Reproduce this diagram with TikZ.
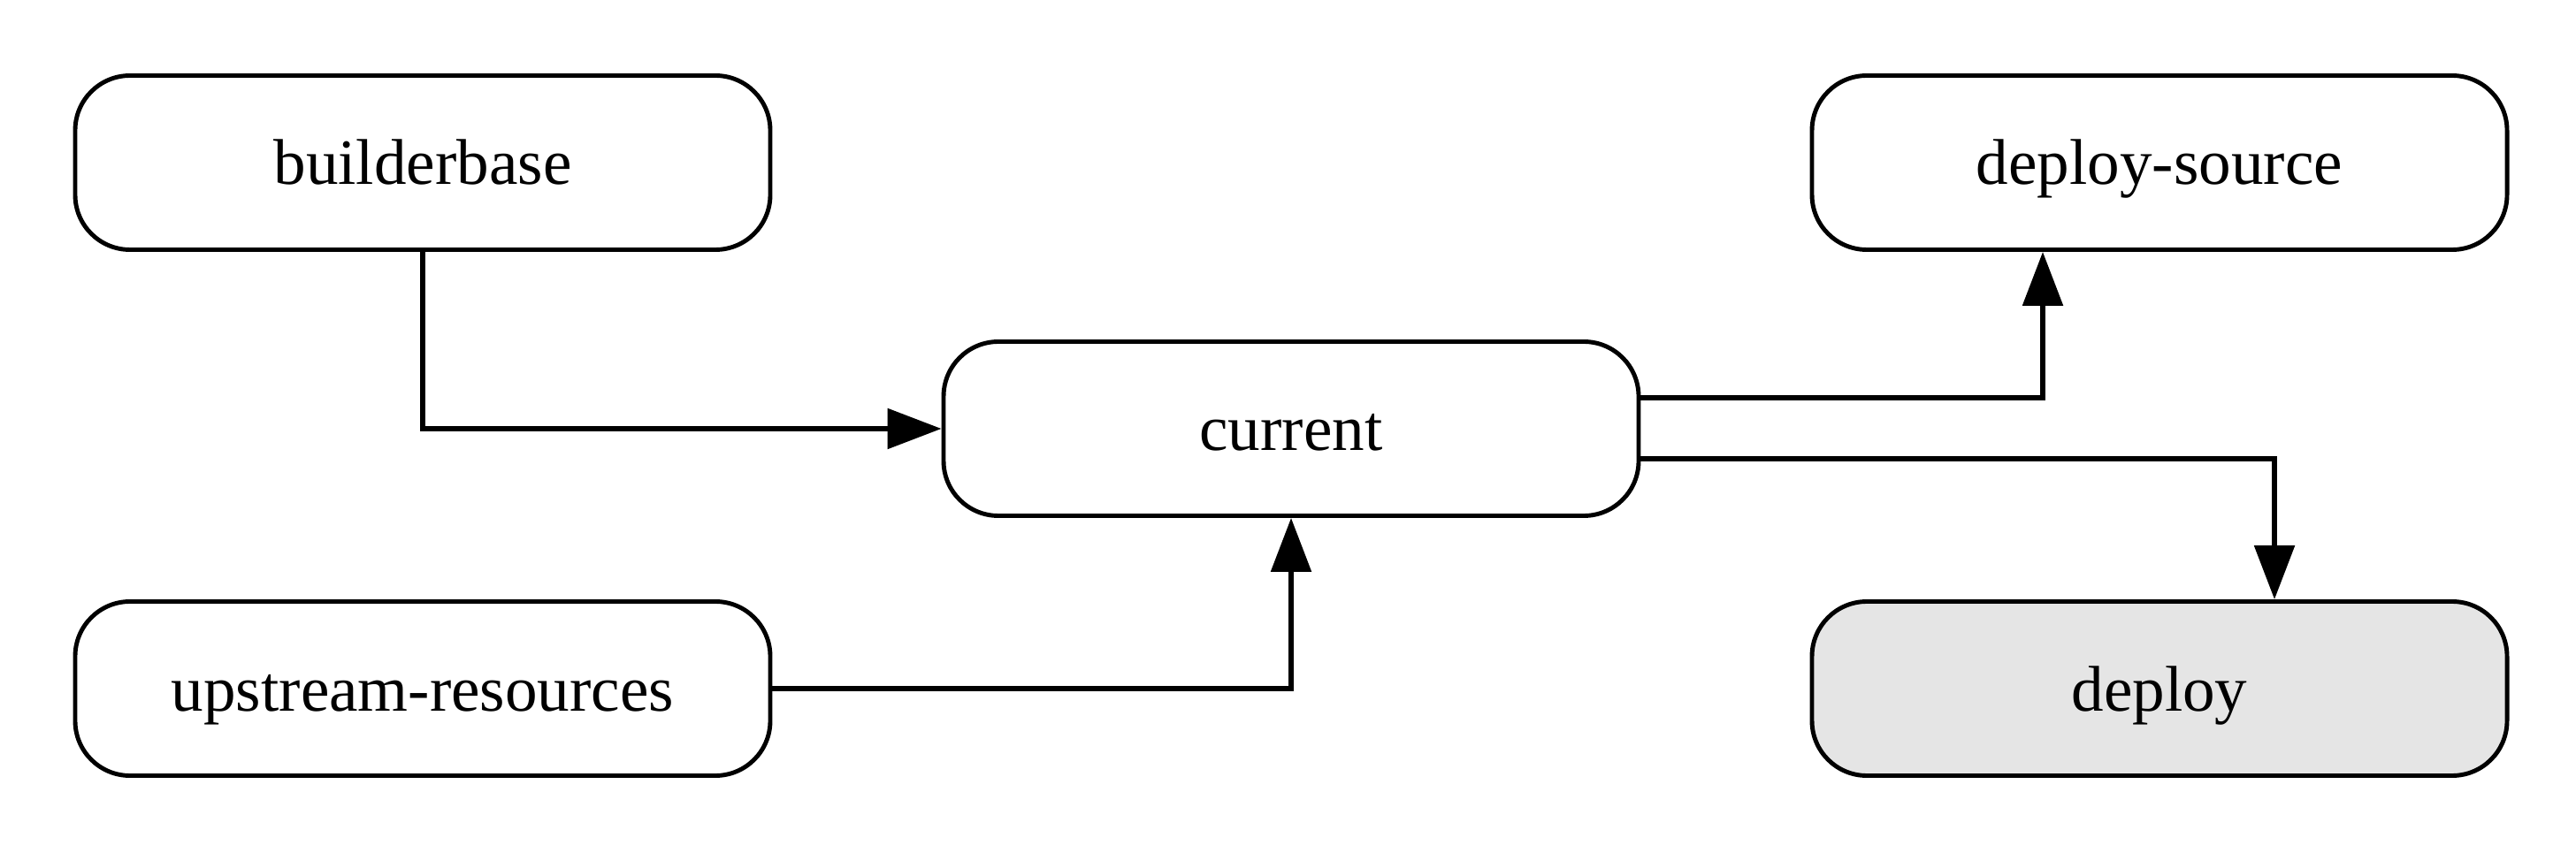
\documentclass[tikz,border=0pt]{standalone}
\usepackage{fontspec}
\setmainfont{Liberation Serif}
\usepackage{tikz}
\usetikzlibrary{arrows,arrows.meta,positioning}
\definecolor{donegray}{HTML}{E5E5E5}

\begin{document}
\begin{tikzpicture}[scale=1.0,transform shape,
      >={Triangle[length=0.61cm,width=0.45cm]},
      job/.style={rectangle, draw, line width=1.4pt, rounded corners=0.62cm,
        minimum width=7.86cm, minimum height=1.97cm,
        text height=0.65cm, text depth=0.15cm,
        font=\fontsize{20.8}{25}\selectfont},
      link/.style={->, line width=1.6pt}]
      \useasboundingbox[fill=white] (0,0) rectangle (29.13,9.64);
      \node[job] at (4.78,7.80) (builderbase) {builderbase};
      \node[job] at (4.78,1.85) (upstream) {upstream-resources};
      \node[job] at (14.60,4.79) (current) {current};
      \node[job] at (24.42,7.80) (dsource) {deploy-source};
      \node[job, fill=donegray] at (24.42,1.85) (deploy) {deploy};
      \draw[link] (builderbase) |- (current);
      \draw[link] (upstream) -| (current);
      \draw[link] ([yshift=0.35cm]current.east) -| ([xshift=-1.32cm]dsource.south);
      \draw[link] ([yshift=-0.34cm]current.east) -| ([xshift=1.30cm]deploy.north);
      \end{tikzpicture}
\end{document}
